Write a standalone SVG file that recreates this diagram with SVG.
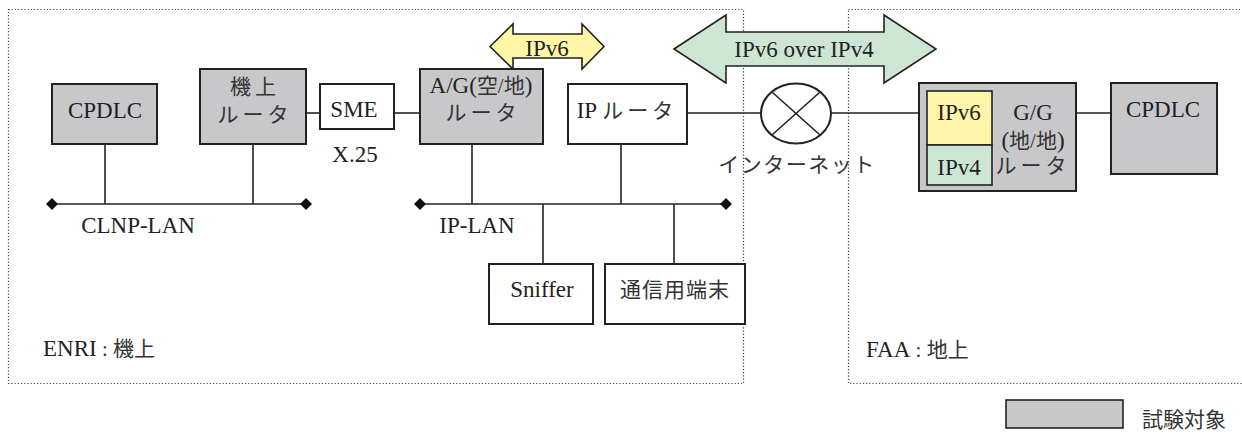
<svg xmlns="http://www.w3.org/2000/svg" width="1242" height="434" viewBox="0 0 1242 434">
<defs>
<style>
.t{font-family:'Liberation Serif',serif;font-size:23px;fill:#222;}
.j{font-family:'Liberation Serif','Noto Sans CJK JP',serif;font-size:21px;fill:#333;}
.js{letter-spacing:4px;}
.box{stroke:#222;stroke-width:2;}
.g{fill:#c8c8ca;}
.w{fill:#fff;}
.ln{stroke:#222;stroke-width:1.6;fill:none;}
.dot{fill:none;stroke:#444;stroke-width:1.2;stroke-dasharray:1.2 2;}
</style>
<marker id="dm" viewBox="-6 -6 12 12" markerWidth="12" markerHeight="12" refX="0" refY="0" markerUnits="userSpaceOnUse"><path d="M-6 0L0 -6L6 0L0 6Z" fill="#111"/></marker>
</defs>
<rect width="1242" height="434" fill="#fff"/>
<g id="regions">
<rect class="dot" x="8.5" y="9.5" width="735" height="374"/>
<rect class="dot" x="848.5" y="9.5" width="400" height="374"/>
<text class="j" x="43" y="356"><tspan class="t">ENRI</tspan> : 機上</text>
<text class="j" x="866" y="357"><tspan class="t">FAA</tspan> : 地上</text>
</g>
<g id="connectors">
<line class="ln" x1="52" y1="204" x2="306" y2="204" marker-start="url(#dm)" marker-end="url(#dm)"/>
<line class="ln" x1="105" y1="144" x2="105" y2="204"/>
<line class="ln" x1="253" y1="144" x2="253" y2="204"/>
<line class="ln" x1="306" y1="113" x2="320" y2="113"/>
<line class="ln" x1="394" y1="113" x2="420" y2="113"/>
<line class="ln" x1="420" y1="204" x2="726" y2="204" marker-start="url(#dm)" marker-end="url(#dm)"/>
<line class="ln" x1="472" y1="144" x2="472" y2="204"/>
<line class="ln" x1="621" y1="144" x2="621" y2="204"/>
<line class="ln" x1="543" y1="204" x2="543" y2="264"/>
<line class="ln" x1="674" y1="204" x2="674" y2="264"/>
<line class="ln" x1="687" y1="113" x2="761" y2="113"/>
<line class="ln" x1="831" y1="113" x2="919" y2="113"/>
<line class="ln" x1="1076" y1="113" x2="1111" y2="113"/>
</g>
<g id="arrow-ipv6">
<path d="M490 46.5L513 24L513 34L582 34L582 24L604 46.5L582 69L582 58L513 58L513 69Z" fill="#fff6a8" stroke="#222" stroke-width="1.6"/>
<text class="t" x="547" y="56" text-anchor="middle">IPv6</text>
</g>
<g id="arrow-tunnel">
<path d="M674 49L726 15L726 32L884 32L884 15L936 49L884 83L884 66L726 66L726 83Z" fill="#cde6d4" stroke="#222" stroke-width="1.6"/>
<text class="t" x="804" y="57" text-anchor="middle" font-size="25">IPv6 over IPv4</text>
</g>
<g id="cpdlc-air">
<rect class="box g" x="52" y="84" width="105" height="60"/>
<text class="t" x="105" y="118" text-anchor="middle">CPDLC</text>
</g>
<g id="air-router">
<rect class="box g" x="200" y="69" width="106" height="75"/>
<text class="j js" x="255" y="94" text-anchor="middle">機上</text>
<text class="j js" x="255" y="122" text-anchor="middle">ルータ</text>
</g>
<g id="sme">
<rect class="box w" x="320" y="84" width="74" height="45"/>
<text class="t" x="354" y="117" text-anchor="middle">SME</text>
<text class="t" x="355" y="162" text-anchor="middle">X.25</text>
</g>
<g id="ag-router">
<rect class="box g" x="420" y="69" width="123" height="75"/>
<text class="j" x="481" y="93" text-anchor="middle"><tspan class="t">A/G(</tspan>空/地<tspan class="t">)</tspan></text>
<text class="j js" x="483" y="120" text-anchor="middle">ルータ</text>
</g>
<g id="ip-router">
<rect class="box w" x="568" y="84" width="119" height="60"/>
<text class="j" x="627" y="118" text-anchor="middle"><tspan class="t">IP</tspan> <tspan class="js">ルータ</tspan></text>
</g>
<g id="lan-labels">
<text class="t" x="138" y="233" text-anchor="middle">CLNP-LAN</text>
<text class="t" x="477" y="233" text-anchor="middle">IP-LAN</text>
</g>
<g id="sniffer">
<rect class="box w" x="489" y="264" width="104" height="60"/>
<text class="t" x="542" y="297" text-anchor="middle">Sniffer</text>
</g>
<g id="terminal">
<rect class="box w" x="605" y="264" width="140" height="60"/>
<text class="j" x="675" y="297" text-anchor="middle" letter-spacing="1">通信用端末</text>
</g>
<g id="internet">
<ellipse cx="796" cy="113.5" rx="35" ry="30" fill="#fff" stroke="#222" stroke-width="2"/>
<line class="ln" x1="772" y1="92" x2="820" y2="135"/>
<line class="ln" x1="820" y1="92" x2="772" y2="135"/>
<text class="j" x="797" y="172" text-anchor="middle" letter-spacing="1.5">インターネット</text>
</g>
<g id="gg-router">
<rect class="box g" x="919" y="83" width="157" height="108"/>
<rect x="927" y="91" width="65" height="54" fill="#fff5a8" stroke="#222" stroke-width="1.6"/>
<rect x="927" y="145" width="65" height="40" fill="#cde6d4" stroke="#222" stroke-width="1.6"/>
<text class="t" x="959" y="120" text-anchor="middle">IPv6</text>
<text class="t" x="959" y="175" text-anchor="middle">IPv4</text>
<text class="t" x="1033" y="120" text-anchor="middle">G/G</text>
<text class="j" x="1033" y="148" text-anchor="middle"><tspan class="t">(</tspan>地/地<tspan class="t">)</tspan></text>
<text class="j js" x="1033" y="173" text-anchor="middle">ルータ</text>
</g>
<g id="cpdlc-ground">
<rect class="box g" x="1111" y="83" width="106" height="91"/>
<text class="t" x="1163" y="117" text-anchor="middle">CPDLC</text>
</g>
<g id="legend">
<rect x="1006" y="400" width="117" height="28" fill="#c8c8ca" stroke="#222" stroke-width="1.6"/>
<text class="j" x="1142" y="427">試験対象</text>
</g>
</svg>
